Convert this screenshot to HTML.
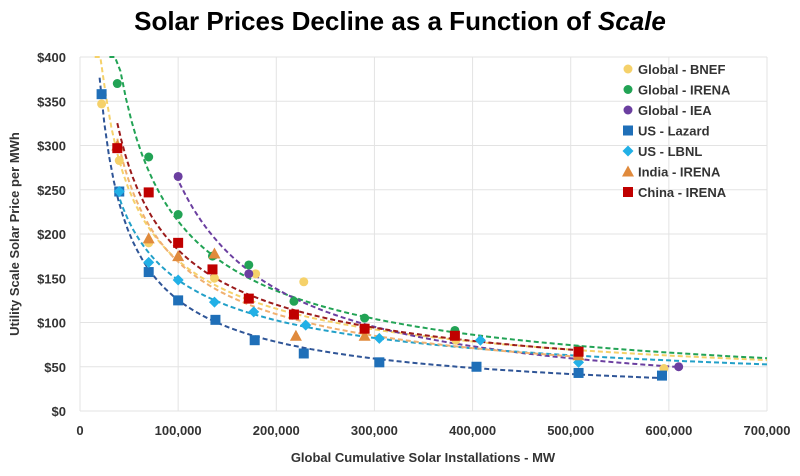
<!DOCTYPE html>
<html><head><meta charset="utf-8"><style>
body{margin:0;background:#fff;font-family:"Liberation Sans",Arial,sans-serif}
svg text{font-family:"Liberation Sans",Arial,sans-serif}
</style></head><body>
<svg id="c" width="800" height="471" xmlns="http://www.w3.org/2000/svg">
<text x="400" y="30" text-anchor="middle" font-size="26" font-weight="bold" fill="#000">Solar Prices Decline as a Function of <tspan font-style="italic">Scale</tspan></text>
<text transform="translate(19,234) rotate(-90)" text-anchor="middle" font-size="13" font-weight="bold" fill="#333">Utility Scale Solar Price per MWh</text>
<text x="423" y="462" text-anchor="middle" font-size="13" font-weight="bold" fill="#333">Global Cumulative Solar Installations - MW</text>
<g id="grid"></g><g id="trends"></g><g id="pts"></g><g id="legend"></g>
</svg>
<script>
const xTicks=[0,100000,200000,300000,400000,500000,600000,700000];
const yTicks=[0,50,100,150,200,250,300,350,400];
const seriesNames=["Global - BNEF","Global - IRENA","Global - IEA","US - Lazard","US - LBNL","India - IRENA","China - IRENA"];
const bnefX=[22,40,70,137,179,228,290,383,508,595];
const bnefY=[347,283,190,150,155,146,90,80,65,48];
const irenaX=[38,70,100,135,172,218,290,382,508];
const irenaY=[370,287,222,175,165,124,105,91,69];
const ieaX=[100,172,610];
const ieaY=[265,155,50];
const lazardX=[22,40,70,100,138,178,228,305,404,508,593];
const lazardY=[358,248,157,125,103,80,65,55,50,43,40];
const lbnlX=[40,70,100,137,177,230,305,408,508];
const lbnlY=[248,168,148,123,112,97,82,80,55];
const indiaX=[38,70,100,137,220,290,508];
const indiaY=[300,195,175,178,85,85,63];
const chinaX=[38,70,100,135,172,218,290,382,508];
const chinaY=[297,247,190,160,127,109,93,85,67];

const colors=["#f5d16a","#22a355","#6b3fa0","#1f6fb8","#22b0e6","#e08a3c","#c00000"];
const trendColors=["#f5d16a","#22a355","#6b3fa0","#2f5597","#22a0c8","#f0b070","#9b1b1b"];
const shapes=["circle","circle","circle","square","diamond","triangle","square"];
const data=[[bnefX,bnefY],[irenaX,irenaY],[ieaX,ieaY],[lazardX,lazardY],[lbnlX,lbnlY],[indiaX,indiaY],[chinaX,chinaY]];
const trendStart=[15,30,98,20,38,38,38],trendEnd=[700,700,610,595,700,510,510];

const X0=80,X1=767,Y0=411,Y1=57;
const sx=v=>X0+(v/700000)*(X1-X0);
const sy=v=>Y0-(v/400)*(Y0-Y1);
const NS="http://www.w3.org/2000/svg";
function mk(tag,attrs,parent){const e=document.createElementNS(NS,tag);for(const k in attrs)e.setAttribute(k,attrs[k]);parent.appendChild(e);return e;}
const grid=document.getElementById('grid');
xTicks.forEach(t=>{const l=mk('line',{x1:sx(t),x2:sx(t),y1:Y1,y2:Y0,stroke:'#e3e3e3'},grid);


const tx=mk('text',{x:sx(t),y:Y0+24,'text-anchor':'middle','font-size':'13','font-weight':'bold',fill:'#333'},grid);tx.textContent=t.toLocaleString('en-US');

});
yTicks.forEach(t=>{const l=mk('line',{x1:X0,x2:X1,y1:sy(t),y2:sy(t),stroke:'#e3e3e3'},grid);


const tx=mk('text',{x:X0-14,y:sy(t)+5,'text-anchor':'end','font-size':'13','font-weight':'bold',fill:'#333'},grid);tx.textContent='$'+t;

});
const tr=document.getElementById('trends'),pts=document.getElementById('pts');
function marker(shape,cx,cy,col,parent){
 if(shape==='circle')return mk('circle',{cx,cy,r:4.5,fill:col},parent);
 if(shape==='square')return mk('rect',{x:cx-5,y:cy-5,width:10,height:10,fill:col},parent);
 if(shape==='diamond')return mk('polygon',{points:`${cx},${cy-5.5} ${cx+5.5},${cy} ${cx},${cy+5.5} ${cx-5.5},${cy}`,fill:col},parent);
 return mk('polygon',{points:`${cx},${cy-6} ${cx+6},${cy+5} ${cx-6},${cy+5}`,fill:col},parent);
}
data.forEach(([xs,ys],i)=>{
 const n=xs.length;let sl=0,sL=0,sll=0,slL=0;
 xs.forEach((x,j)=>{const a=Math.log(x),b=Math.log(ys[j]);sl+=a;sL+=b;sll+=a*a;slL+=a*b;});
 const b=(n*slL-sl*sL)/(n*sll-sl*sl),a=(sL-b*sl)/n;
 let d='';for(let k=0;k<=120;k++){const x=trendStart[i]+(trendEnd[i]-trendStart[i])*k/120;let y=Math.exp(a+b*Math.log(x));y=Math.min(y,400);d+=(k?'L':'M')+sx(x*1000).toFixed(1)+' '+sy(y).toFixed(1);}
 const p=mk('path',{d,fill:'none',stroke:trendColors[i],'stroke-width':2,'stroke-dasharray':'5 3'},tr);
 
 
 xs.forEach((x,j)=>{const m=marker(shapes[i],sx(x*1000),sy(ys[j]),colors[i],pts);
 
 });
});
const lg=document.getElementById('legend');
seriesNames.forEach((nm,i)=>{const y=69+i*20.5;
 const m=marker(shapes[i],628,y,colors[i],lg);
 
 
 const t=mk('text',{x:638,y:y+5,'font-size':'13','font-weight':'bold',fill:'#333'},lg);t.textContent=nm;
 
 });
</script>
</body></html>
